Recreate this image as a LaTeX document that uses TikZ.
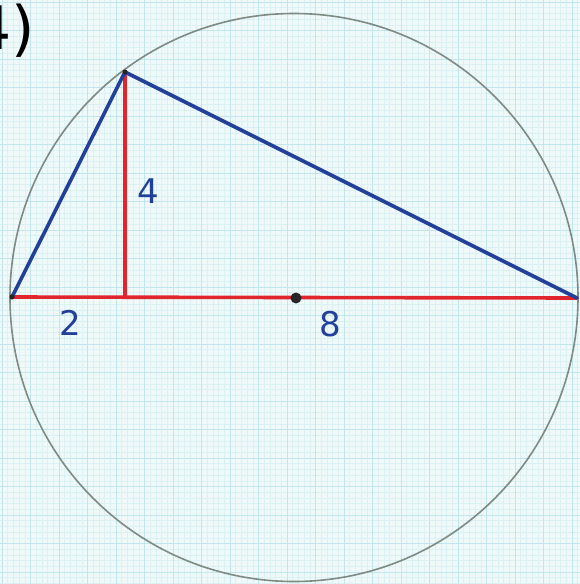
\documentclass[tikz,border=0pt]{standalone}
\usepackage{fontspec}
\setmainfont{DejaVu Sans}
\definecolor{paper}{HTML}{F0F9FA}
\definecolor{minorgrid}{HTML}{DCF1F4}
\definecolor{majorgrid}{HTML}{C2E6EC}
\definecolor{penblue}{HTML}{22409A}
\definecolor{penred}{HTML}{E0262C}
\definecolor{pencil}{HTML}{7E8A84}
\tikzset{
  blueline/.style={draw=penblue, line width=3.6pt, line cap=round, line join=round},
  redline/.style={draw=penred, line width=3.6pt, line cap=round},
  lbl/.style={text=penblue, font=\fontsize{34}{34}\selectfont, inner sep=0pt},
}
\begin{document}
\begin{tikzpicture}[x=1pt,y=-1pt]
\useasboundingbox (0,0) rectangle (580,584);
\clip (0,0) rectangle (580,584);
\fill[paper] (0,0) rectangle (580,584);
\foreach \i in {0,...,102} {
  \draw[minorgrid, line width=0.5pt] ({2+\i*5.7},0) -- ({2+\i*5.7},584);
  \draw[minorgrid, line width=0.5pt] (0,{2+\i*5.7}) -- (580,{2+\i*5.7});
}
\foreach \i in {0,...,20} {
  \draw[majorgrid, line width=0.9pt] ({2+\i*28.5},0) -- ({2+\i*28.5},584);
  \draw[majorgrid, line width=0.9pt] (0,{2+\i*28.5}) -- (580,{2+\i*28.5});
}
% corner label
\node[anchor=base west, inner sep=0pt, font=\fontsize{60}{60}\selectfont] (num) at (-27,49) {4)};
% circle
\node[circle, draw=pencil, line width=1.6pt, minimum size=568pt, inner sep=0pt] (circ) at (294,297.5) {};
% points
\coordinate (A) at (12,297);
\coordinate (B) at (577,298);
\coordinate (C) at (125,72);
\coordinate (D) at (125,297);
\coordinate (O) at (296,298);
% red lines
\draw[redline] (A) -- (B);
\draw[redline] (C) -- (D);
% blue lines
\draw[blueline] (A) -- (C) -- (B);
\fill[black!85] (O) circle[radius=5.5pt];
\fill[black!85] (C) circle[radius=2.5pt];
\fill[black!85] (A) circle[radius=2.5pt];
% labels
\node[lbl] (l4) at (148,191) {4};
\node[lbl] (l2) at (70,323) {2};
\node[lbl] (l8) at (330,324) {8};
\end{tikzpicture}
\end{document}
